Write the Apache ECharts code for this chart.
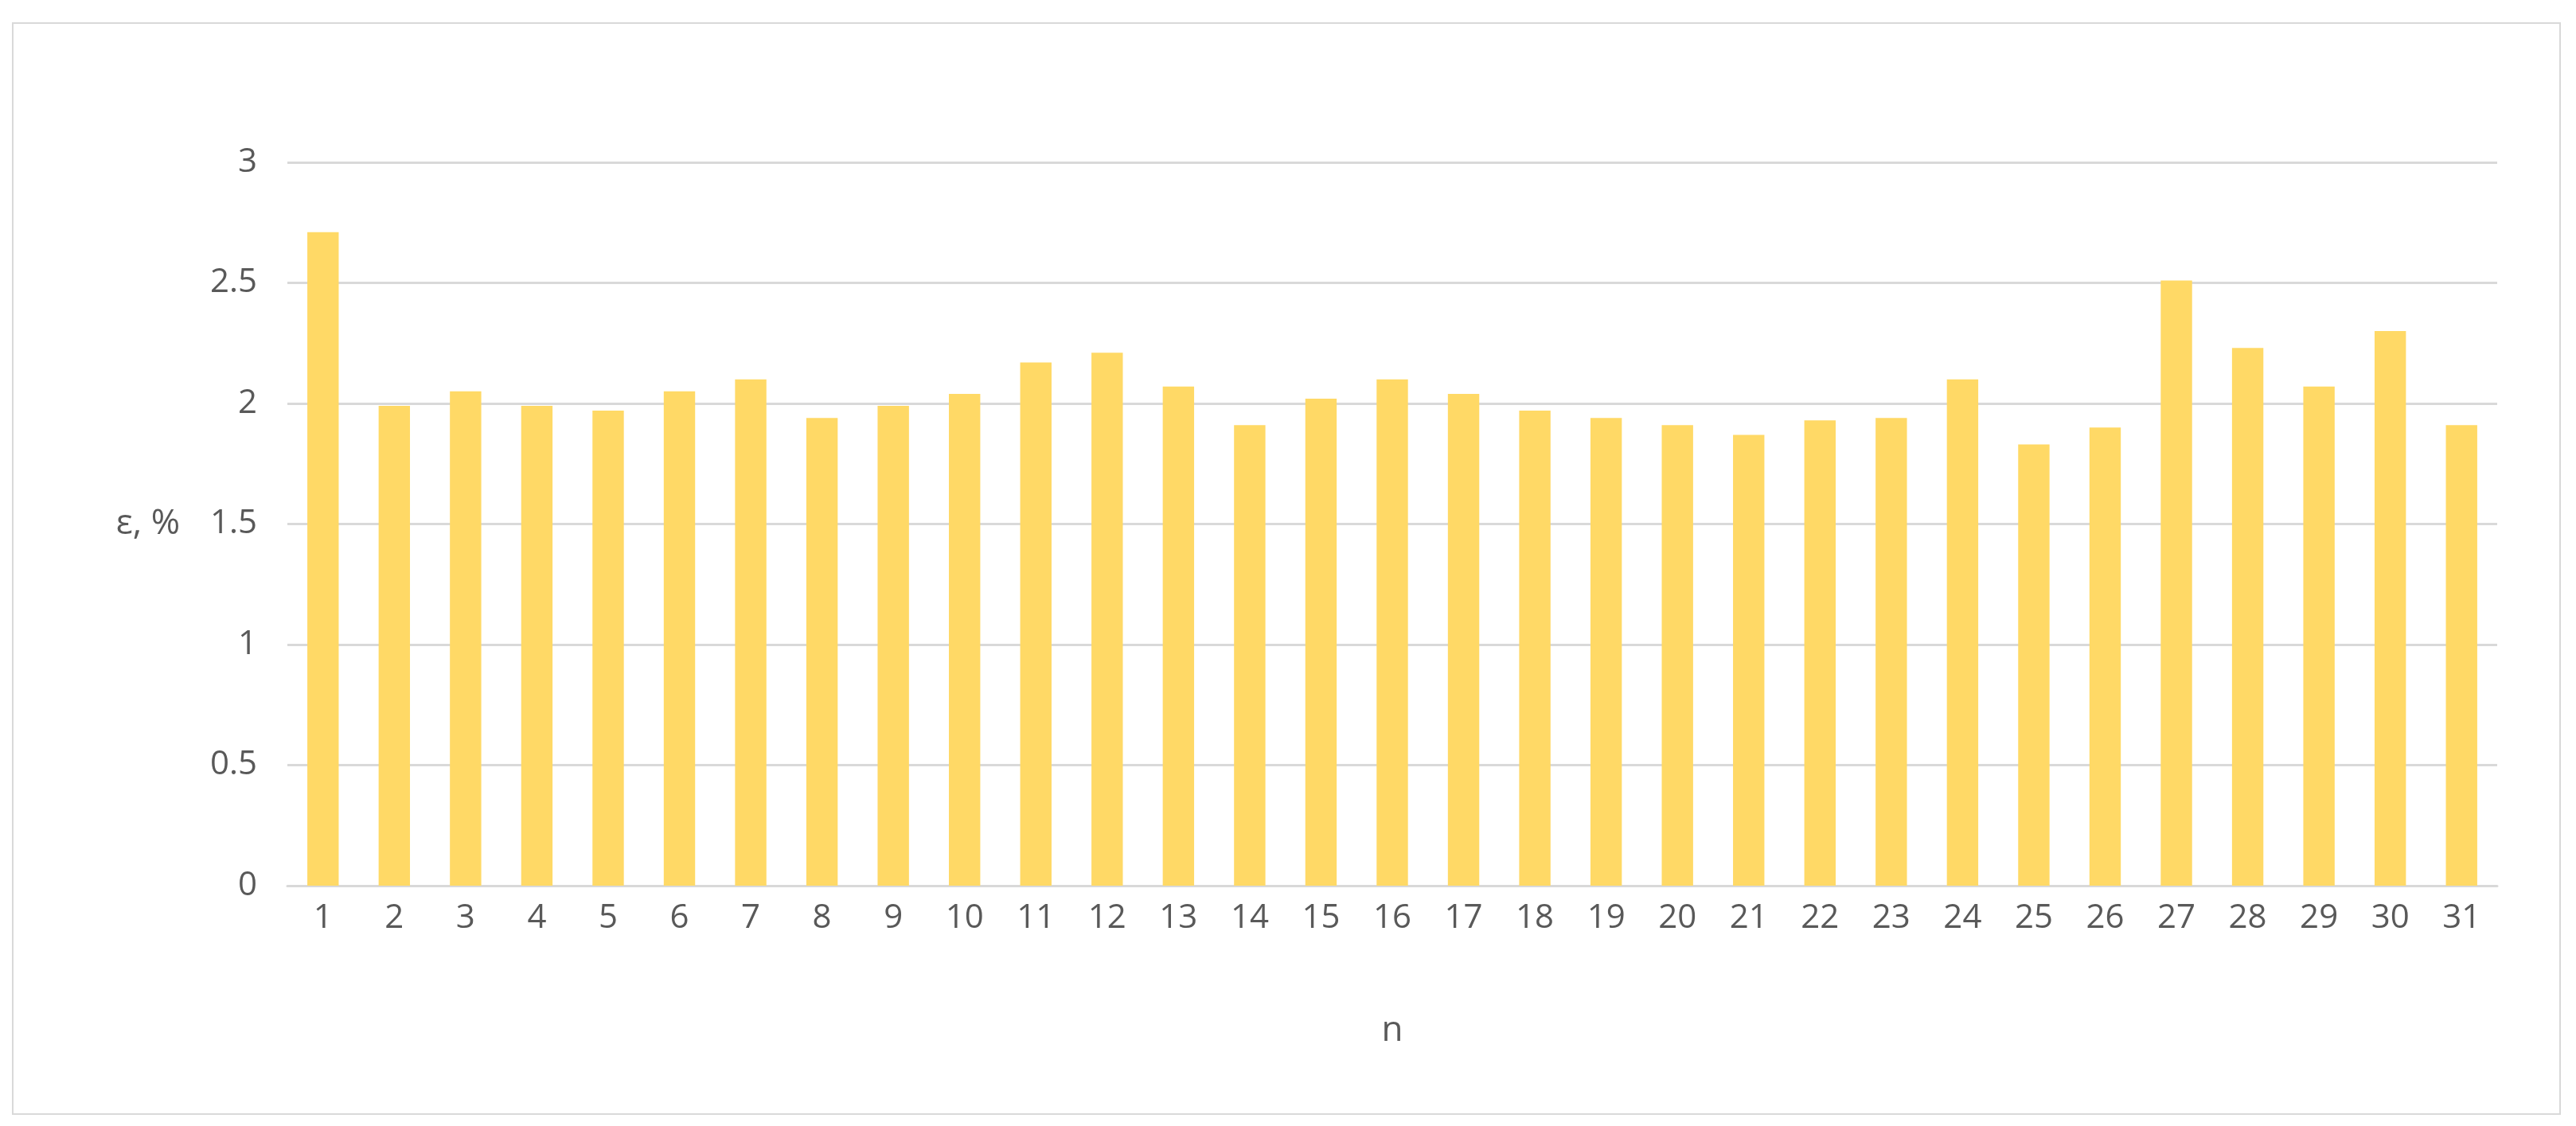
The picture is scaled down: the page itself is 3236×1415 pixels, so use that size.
<!DOCTYPE html>
<html>
<head>
<meta charset="utf-8">
<script src="https://cdn.jsdelivr.net/npm/echarts@6/dist/echarts.min.js"></script>
<style>html,body{margin:0;padding:0;background:#fff}#chart{width:3236px;height:1415px}</style>
</head>
<body>
<div id="chart"></div>
<script>
var categories = [];
for (var i = 1; i <= 31; i++) categories.push(String(i));
var epsValues = [2.71, 1.99, 2.05, 1.99, 1.97, 2.05, 2.1, 1.94, 1.99, 2.04, 2.17, 2.21, 2.07, 1.91, 2.02,
                 2.1, 2.04, 1.97, 1.94, 1.91, 1.87, 1.93, 1.94, 2.1, 1.83, 1.9, 2.51, 2.23, 2.07, 2.3, 1.91];
var yTicks = { min: 0, max: 3, interval: 0.5 };

var chart = echarts.init(document.getElementById('chart'));
chart.setOption({
    animation: false,
    textStyle: { fontFamily: 'Open Sans' },
    graphic: [{
        type: 'rect',
        shape: { x: 16, y: 29, width: 3200, height: 1371 },
        style: { fill: 'none', stroke: '#d9d9d9', lineWidth: 2 }
    }],
    grid: { left: 361, right: 99, top: 204, bottom: 302 },
    xAxis: {
        type: 'category',
        data: categories,
        name: 'n',
        nameLocation: 'middle',
        nameGap: 160,
        nameTextStyle: { color: '#595959', fontSize: 44 },
        axisLine: { lineStyle: { color: '#d9d9d9', width: 3 } },
        axisTick: { show: false },
        axisLabel: { color: '#595959', fontSize: 42, margin: 20 }
    },
    yAxis: {
        type: 'value',
        min: yTicks.min, max: yTicks.max, interval: yTicks.interval,
        name: 'ε, %',
        nameLocation: 'middle',
        nameRotate: 0,
        nameGap: 135,
        nameTextStyle: { color: '#595959', fontSize: 44 },
        axisLine: { show: false },
        axisTick: { show: false },
        axisLabel: { color: '#595959', fontSize: 42, margin: 38 },
        splitLine: { lineStyle: { color: '#d9d9d9', width: 3 } }
    },
    series: [{
        type: 'bar',
        data: epsValues,
        barWidth: '44%',
        itemStyle: { color: '#ffd966' }
    }]
});
</script>
</body>
</html>
